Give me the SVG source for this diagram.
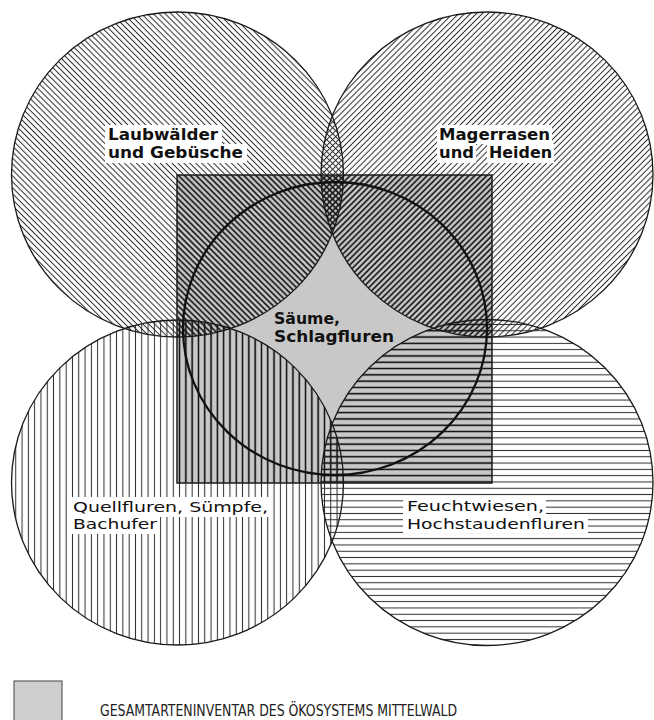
<svg xmlns="http://www.w3.org/2000/svg" width="654" height="720" viewBox="0 0 654 720">
<defs>
<style>
.hl{stroke:#2a2a2a;stroke-width:1}
.hd{stroke:#151515;stroke-width:1.4}
.outline{fill:none;stroke:#1a1a1a;stroke-width:1.3}
.knock{fill:#fff}
.lab{font-family:"DejaVu Sans","Liberation Sans",sans-serif;font-size:16px;fill:#111}
.sm{font-size:14.5px}
.b{font-weight:bold}
.leg{font-family:"DejaVu Sans Condensed","Liberation Sans Narrow","Liberation Sans",sans-serif;font-size:16px;fill:#222}
</style>
<pattern id="pTL" width="4.2" height="10" patternUnits="userSpaceOnUse" patternTransform="rotate(-45)"><line class="hl" x1="2.1" y1="-1" x2="2.1" y2="11"/></pattern>
<pattern id="pTR" width="4.2" height="10" patternUnits="userSpaceOnUse" patternTransform="rotate(45)"><line class="hl" x1="2.1" y1="-1" x2="2.1" y2="11"/></pattern>
<pattern id="pBL" width="6.3" height="10" patternUnits="userSpaceOnUse"><line class="hl" x1="3.15" y1="-1" x2="3.15" y2="11"/></pattern>
<pattern id="pBR" width="10" height="6.3" patternUnits="userSpaceOnUse"><line class="hl" x1="-1" y1="3.15" x2="11" y2="3.15"/></pattern>
<pattern id="dTL" width="4.2" height="10" patternUnits="userSpaceOnUse" patternTransform="rotate(-45)"><line class="hd" x1="2.1" y1="-1" x2="2.1" y2="11"/></pattern>
<pattern id="dTR" width="4.2" height="10" patternUnits="userSpaceOnUse" patternTransform="rotate(45)"><line class="hd" x1="2.1" y1="-1" x2="2.1" y2="11"/></pattern>
<pattern id="dBL" width="6.3" height="10" patternUnits="userSpaceOnUse"><line class="hd" x1="3.15" y1="-1" x2="3.15" y2="11"/></pattern>
<pattern id="dBR" width="10" height="6.3" patternUnits="userSpaceOnUse"><line class="hd" x1="-1" y1="3.15" x2="11" y2="3.15"/></pattern>
<clipPath id="sq"><rect x="177" y="175" width="315" height="308"/></clipPath>
</defs>
<rect width="654" height="720" fill="#fff"/>

<g id="gesamtinventar">
<rect x="177" y="175" width="315" height="308" fill="#c8c8c8" stroke="#1a1a1a" stroke-width="1.5"/>
</g>

<g id="laubwaelder">
<ellipse cx="177.5" cy="174.5" rx="166" ry="162.5" fill="url(#pTL)"/>
<ellipse cx="177.5" cy="174.5" rx="166" ry="162.5" fill="url(#dTL)" clip-path="url(#sq)"/>
<ellipse class="outline" cx="177.5" cy="174.5" rx="166" ry="162.5"/>
<rect class="knock" x="105" y="125" width="117" height="19"/>
<rect class="knock" x="105" y="144" width="142" height="19"/>
<text class="lab b" x="108" y="140" textLength="110" lengthAdjust="spacingAndGlyphs">Laubwälder</text>
<text class="lab b" x="108" y="158" textLength="135" lengthAdjust="spacingAndGlyphs">und Gebüsche</text>
</g>

<g id="magerrasen">
<ellipse cx="487" cy="174.5" rx="166" ry="162.5" fill="url(#pTR)"/>
<ellipse cx="487" cy="174.5" rx="166" ry="162.5" fill="url(#dTR)" clip-path="url(#sq)"/>
<ellipse class="outline" cx="487" cy="174.5" rx="166" ry="162.5"/>
<rect class="knock" x="437" y="125" width="115" height="19"/>
<rect class="knock" x="437" y="144" width="39" height="19"/>
<rect class="knock" x="487" y="144" width="67" height="19"/>
<text class="lab b" x="439" y="140" textLength="111" lengthAdjust="spacingAndGlyphs">Magerrasen</text>
<text class="lab b" x="439" y="158" textLength="35" lengthAdjust="spacingAndGlyphs">und</text>
<text class="lab b" x="489" y="158" textLength="63" lengthAdjust="spacingAndGlyphs">Heiden</text>
</g>

<g id="quellfluren">
<ellipse cx="177.5" cy="482.5" rx="166" ry="162.5" fill="url(#pBL)"/>
<ellipse cx="177.5" cy="482.5" rx="166" ry="162.5" fill="url(#dBL)" clip-path="url(#sq)"/>
<ellipse class="outline" cx="177.5" cy="482.5" rx="166" ry="162.5"/>
<rect class="knock" x="70" y="497" width="202" height="20"/>
<rect class="knock" x="70" y="517" width="90" height="17"/>
<text class="lab sm" x="73" y="512" textLength="195" lengthAdjust="spacingAndGlyphs">Quellfluren, Sümpfe,</text>
<text class="lab sm" x="73" y="529" textLength="84" lengthAdjust="spacingAndGlyphs">Bachufer</text>
</g>

<g id="feuchtwiesen">
<ellipse cx="487" cy="482.5" rx="166" ry="163" fill="url(#pBR)"/>
<ellipse cx="487" cy="482.5" rx="166" ry="163" fill="url(#dBR)" clip-path="url(#sq)"/>
<ellipse class="outline" cx="487" cy="482.5" rx="166" ry="163"/>
<rect class="knock" x="403" y="497" width="143" height="17"/>
<rect class="knock" x="403" y="514" width="185" height="19"/>
<text class="lab sm" x="407" y="511" textLength="137" lengthAdjust="spacingAndGlyphs">Feuchtwiesen,</text>
<text class="lab sm" x="407" y="529" textLength="178" lengthAdjust="spacingAndGlyphs">Hochstaudenfluren</text>
</g>

<g id="saeume">
<ellipse cx="335" cy="328.5" rx="152" ry="146.5" fill="none" stroke="#111" stroke-width="2.3"/>
<text class="lab b" x="274" y="324" textLength="66" lengthAdjust="spacingAndGlyphs">Säume,</text>
<text class="lab b" x="274" y="342" textLength="120" lengthAdjust="spacingAndGlyphs">Schlagfluren</text>
</g>

<g id="legende">
<rect x="14" y="681" width="48" height="45" fill="#cfcfcf" stroke="#444" stroke-width="1"/>
<text class="leg" x="100" y="716" textLength="357" lengthAdjust="spacingAndGlyphs">GESAMTARTENINVENTAR DES ÖKOSYSTEMS MITTELWALD</text>
</g>
</svg>
